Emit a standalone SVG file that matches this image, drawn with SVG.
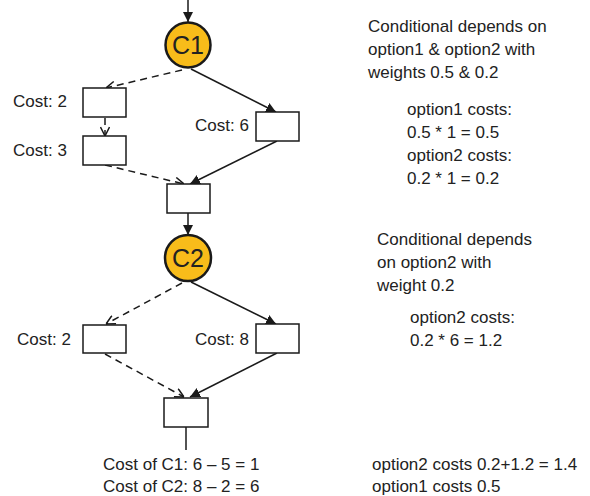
<svg xmlns="http://www.w3.org/2000/svg" width="590" height="496" viewBox="0 0 590 496">
<defs>
<marker id="fill" viewBox="0 0 10 10" refX="10" refY="5" markerWidth="10" markerHeight="10" markerUnits="userSpaceOnUse" orient="auto">
<path d="M0,0 L10,5 L0,10 Z" fill="#1a1a1a"/>
</marker>
<marker id="open" viewBox="0 0 10 10" refX="10" refY="5" markerWidth="10" markerHeight="10" markerUnits="userSpaceOnUse" orient="auto">
<path d="M1,0.5 L10,5 L1,9.5" fill="none" stroke="#1a1a1a" stroke-width="1.5"/>
</marker>
</defs>
<style>
text{font-family:"Liberation Sans",Arial,sans-serif;font-size:17px;fill:#222}
.box{fill:#fff;stroke:#1a1a1a;stroke-width:1.5}
.cond{fill:#F8BC1A;stroke:#1a1a1a;stroke-width:2.5}
.cl{font-size:25px;text-anchor:middle}
.s{stroke:#1a1a1a;stroke-width:1.5;fill:none;marker-end:url(#fill)}
.d{stroke:#1a1a1a;stroke-width:1.5;fill:none;stroke-dasharray:7,5;marker-end:url(#open)}
</style>
<g id="connectors">
<line class="s" x1="188" y1="0" x2="188" y2="22"/>
<line class="d" x1="182" y1="70" x2="106" y2="88"/>
<line class="s" x1="191" y1="69" x2="276" y2="112"/>
<line class="d" x1="105" y1="118" x2="105" y2="136"/>
<line class="d" x1="105" y1="165" x2="184" y2="184"/>
<line class="s" x1="277" y1="141" x2="190" y2="184"/>
<line class="s" x1="188" y1="213" x2="188" y2="235"/>
<line class="d" x1="182" y1="283" x2="106" y2="324"/>
<line class="s" x1="191" y1="282" x2="276" y2="324"/>
<line class="d" x1="105" y1="354" x2="184" y2="397"/>
<line class="s" x1="277" y1="353" x2="190" y2="397"/>
<line x1="186" y1="427" x2="186" y2="450" stroke="#1a1a1a" stroke-width="1.5"/>
</g>
<g id="C1"><circle class="cond" cx="188" cy="45" r="22.5"/><text class="cl" x="188" y="54">C1</text></g>
<g id="boxA"><rect class="box" x="83" y="88" width="43" height="29"/><text x="13" y="107">Cost: 2</text></g>
<g id="boxB"><rect class="box" x="83" y="136" width="43" height="29"/><text x="13" y="156">Cost: 3</text></g>
<g id="boxR1"><rect class="box" x="256" y="112" width="43" height="29"/><text x="195" y="131">Cost: 6</text></g>
<g id="merge1"><rect class="box" x="167" y="184" width="43" height="29"/></g>
<g id="C2"><circle class="cond" cx="188" cy="258" r="23"/><text class="cl" x="188" y="267">C2</text></g>
<g id="boxC"><rect class="box" x="83" y="325" width="43" height="28"/><text x="17" y="345">Cost: 2</text></g>
<g id="boxD"><rect class="box" x="256" y="324" width="43" height="29"/><text x="195" y="345">Cost: 8</text></g>
<g id="merge2"><rect class="box" x="164" y="398" width="44" height="29"/></g>
<g id="notes">
<text x="103" y="470">Cost of C1: 6 – 5 = 1</text>
<text x="103" y="492">Cost of C2: 8 – 2 = 6</text>
<text x="368" y="32">Conditional depends on</text>
<text x="368" y="55">option1 &amp; option2 with</text>
<text x="368" y="78">weights 0.5 &amp; 0.2</text>
<text x="407" y="115">option1 costs:</text>
<text x="407" y="138">0.5 * 1 = 0.5</text>
<text x="407" y="161">option2 costs:</text>
<text x="407" y="184">0.2 * 1 = 0.2</text>
<text x="377" y="245">Conditional depends</text>
<text x="377" y="268">on option2 with</text>
<text x="377" y="291">weight 0.2</text>
<text x="410" y="323">option2 costs:</text>
<text x="410" y="346">0.2 * 6 = 1.2</text>
<text x="372" y="470">option2 costs 0.2+1.2 = 1.4</text>
<text x="372" y="492">option1 costs 0.5</text>
</g>
</svg>
